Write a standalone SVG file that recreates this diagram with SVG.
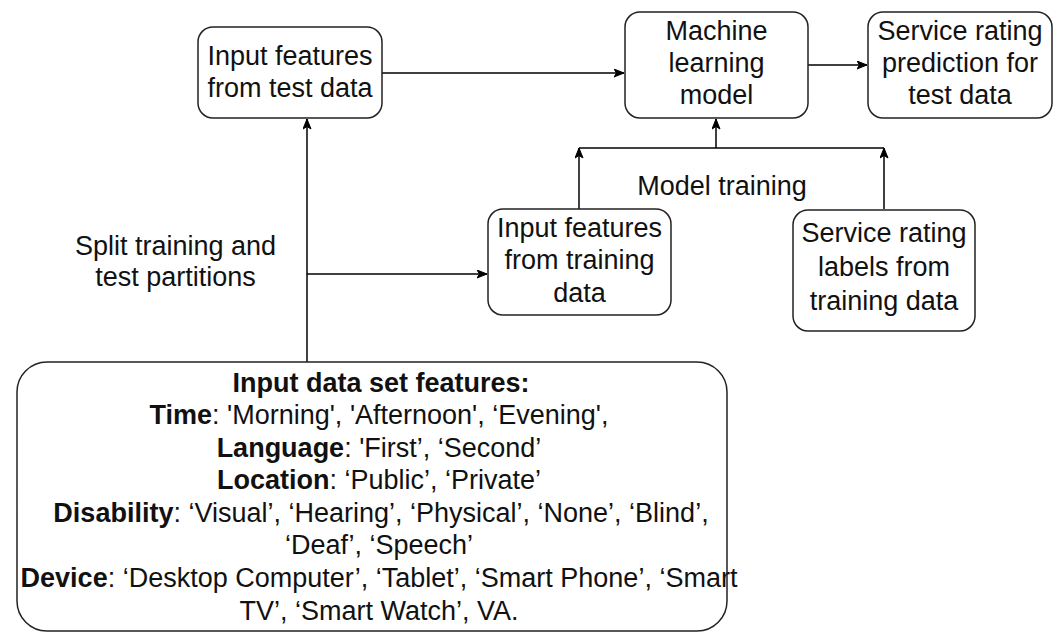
<svg xmlns="http://www.w3.org/2000/svg" width="1059" height="633" viewBox="0 0 1059 633">
  <defs>
    <marker id="arr" viewBox="0 0 11 9" refX="10.5" refY="4.5" markerWidth="11" markerHeight="9" markerUnits="userSpaceOnUse" orient="auto">
      <path d="M0.5,0.5 L10.5,4.5 L0.5,8.5 L3,4.5 Z" fill="#000" stroke="#000" stroke-width="1"/>
    </marker>
    <style>
      .box { fill: #fff; stroke: #222; stroke-width: 1.5; }
      .t { font-family: "Liberation Sans", Arial, sans-serif; font-size: 27px; fill: #111; text-anchor: middle; }
      .b { font-weight: bold; }
      .c { fill: none; stroke: #000; stroke-width: 1.5; }
    </style>
  </defs>
  <rect width="1059" height="633" fill="#fff"/>

  <g id="connectors">
    <line class="c" x1="382" y1="73" x2="624" y2="73" marker-end="url(#arr)"/>
    <line class="c" x1="808" y1="65" x2="867" y2="65" marker-end="url(#arr)"/>
    <line class="c" x1="307" y1="362" x2="307" y2="119" marker-end="url(#arr)"/>
    <line class="c" x1="307" y1="274" x2="487" y2="274" marker-end="url(#arr)"/>
    <line class="c" x1="579" y1="209" x2="579" y2="148" marker-end="url(#arr)"/>
    <line class="c" x1="884" y1="209" x2="884" y2="148" marker-end="url(#arr)"/>
    <line class="c" x1="579" y1="148" x2="884" y2="148"/>
    <line class="c" x1="716" y1="148" x2="716" y2="119" marker-end="url(#arr)"/>
  </g>

  <g id="test-features">
    <rect class="box" x="198" y="27" width="184" height="91" rx="15"/>
    <text class="t" x="290" y="64.5">Input features</text>
    <text class="t" x="290" y="96.5">from test data</text>
  </g>

  <g id="ml-model">
    <rect class="box" x="625" y="12" width="183" height="106" rx="15"/>
    <text class="t" x="716.5" y="39.5">Machine</text>
    <text class="t" x="716.5" y="72">learning</text>
    <text class="t" x="716.5" y="104">model</text>
  </g>

  <g id="prediction">
    <rect class="box" x="868" y="12" width="184" height="106" rx="15"/>
    <text class="t" x="960" y="39.5">Service rating</text>
    <text class="t" x="960" y="72">prediction for</text>
    <text class="t" x="960" y="104">test data</text>
  </g>

  <g id="training-features">
    <rect class="box" x="488" y="209" width="183" height="106" rx="15"/>
    <text class="t" x="579.5" y="236.5">Input features</text>
    <text class="t" x="579.5" y="269">from training</text>
    <text class="t" x="579.5" y="301.5">data</text>
  </g>

  <g id="training-labels">
    <rect class="box" x="793" y="210" width="182" height="121" rx="15"/>
    <text class="t" x="884" y="241.5">Service rating</text>
    <text class="t" x="884" y="275.5">labels from</text>
    <text class="t" x="884" y="309.5">training data</text>
  </g>

  <g id="model-training-label">
    <text class="t" x="722" y="195">Model training</text>
  </g>

  <g id="split-label">
    <text class="t" x="175.5" y="255">Split training and</text>
    <text class="t" x="175.5" y="286">test partitions</text>
  </g>

  <g id="dataset">
    <rect class="box" x="17" y="362" width="710" height="269" rx="30"/>
    <text class="t b" x="381" y="391.5">Input data set features:</text>
    <text class="t" x="379" y="424"><tspan class="b">Time</tspan>: 'Morning', 'Afternoon', ‘Evening',</text>
    <text class="t" x="379" y="456.6"><tspan class="b">Language</tspan>: 'First’, ‘Second’</text>
    <text class="t" x="379" y="489.2"><tspan class="b">Location</tspan>: ‘Public’, ‘Private’</text>
    <text class="t" x="381" y="521.8"><tspan class="b">Disability</tspan>: ‘Visual’, ‘Hearing’, ‘Physical’, ‘None’, ‘Blind’,</text>
    <text class="t" x="379" y="554.4">‘Deaf’, ‘Speech’</text>
    <text class="t" x="379" y="587"><tspan class="b">Device</tspan>: ‘Desktop Computer’, ‘Tablet’, ‘Smart Phone’, ‘Smart</text>
    <text class="t" x="379" y="619.6">TV’, ‘Smart Watch’, VA.</text>
  </g>
</svg>
